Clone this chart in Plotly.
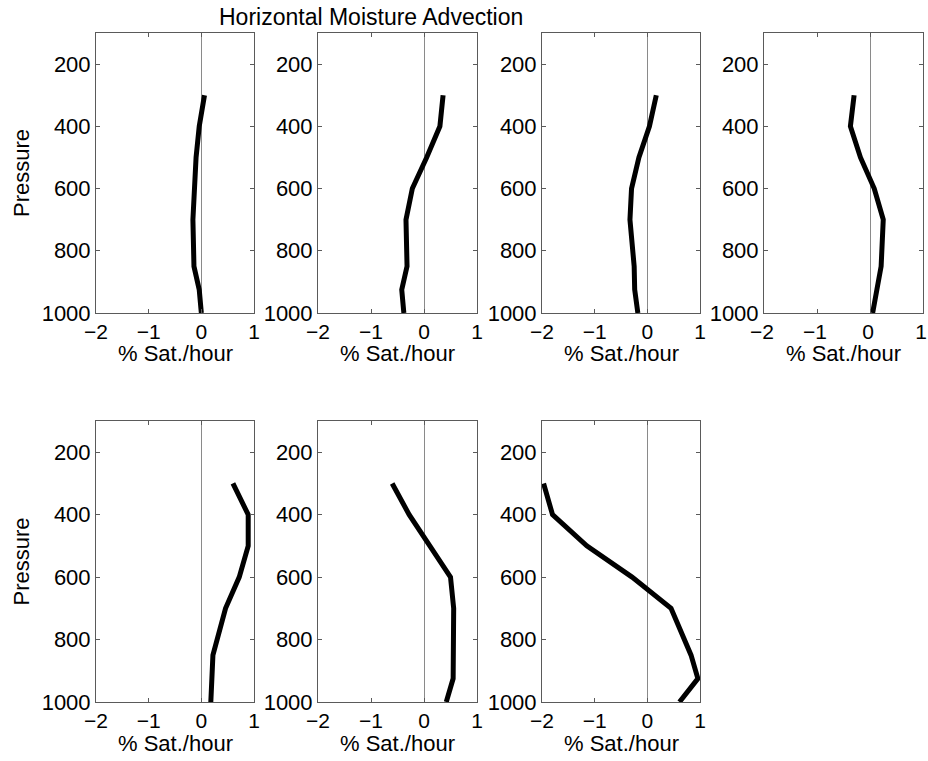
import plotly.graph_objects as go

pressure = [300, 400, 500, 600, 700, 850, 925, 1000]

panel1 = [0.06, -0.04, -0.10, -0.14, -0.16, -0.14, -0.04, 0.00]
panel2 = [0.36, 0.30, 0.05, -0.22, -0.34, -0.32, -0.42, -0.38]
panel3 = [0.17, 0.04, -0.16, -0.30, -0.33, -0.25, -0.24, -0.18]
panel4 = [-0.30, -0.37, -0.18, 0.08, 0.25, 0.21, 0.13, 0.05]
panel5 = [0.60, 0.89, 0.89, 0.72, 0.46, 0.22, 0.20, 0.18]
panel6 = [-0.60, -0.28, 0.11, 0.50, 0.56, 0.54, 0.55, 0.42]
panel7 = [-1.97, -1.80, -1.15, -0.29, 0.45, 0.83, 0.96, 0.61]

panels = [panel1, panel2, panel3, panel4, panel5, panel6, panel7]

x_ticks = [-2, -1, 0, 1]
y_ticks = [200, 400, 600, 800, 1000]

title_text = "Horizontal Moisture Advection"
x_label = "% Sat./hour"
y_label = "Pressure"

W, H = 928, 761
col_px = [(96, 254), (318, 477), (542, 700), (764, 923)]
row_px = [(33, 313), (421, 702)]

FONT = "Liberation Sans, Arial, Helvetica, sans-serif"
FRAME = "#5a5a5a"

fig = go.Figure()
layout = dict(
    template="none",
    width=W, height=H, autosize=False,
    margin=dict(l=0, r=0, t=0, b=0, pad=0, autoexpand=False),
    paper_bgcolor="white", plot_bgcolor="white",
    showlegend=False,
    font=dict(family=FONT, size=22, color="black"),
    annotations=[],
)

for i, vals in enumerate(panels):
    r, c = divmod(i, 4)
    n = i + 1
    xa = "x" if n == 1 else f"x{n}"
    ya = "y" if n == 1 else f"y{n}"
    fig.add_trace(go.Scatter(
        x=vals, y=pressure, mode="lines",
        line=dict(color="black", width=5),
        xaxis=xa, yaxis=ya, hoverinfo="skip",
    ))
    x0, x1 = col_px[c]
    y0, y1 = row_px[r]
    xkey = "xaxis" if n == 1 else f"xaxis{n}"
    ykey = "yaxis" if n == 1 else f"yaxis{n}"
    layout[xkey] = dict(
        domain=[x0 / W, x1 / W], anchor=ya, automargin=False,
        range=[-2, 1], autorange=False,
        tickvals=x_ticks, ticks="inside", ticklen=4, tickcolor=FRAME,
        showline=True, linecolor=FRAME, linewidth=1, mirror="allticks",
        showgrid=False, zeroline=True, zerolinecolor="#8a8a8a", zerolinewidth=1,
        tickfont=dict(size=21, color="black"), ticklabeloverflow="allow",
        ticklabelshift=(-2 if c == 3 else 0),
    )
    layout[ykey] = dict(
        domain=[1 - y1 / H, 1 - y0 / H], anchor=xa, automargin=False,
        range=[1000, 100], autorange=False,
        tickvals=y_ticks, ticks="inside", ticklen=4, tickcolor=FRAME,
        showline=True, linecolor=FRAME, linewidth=1, mirror="allticks",
        showgrid=False, zeroline=False,
        tickfont=dict(size=22, color="black"), ticklabeloverflow="allow",
    )
    layout["annotations"].append(dict(
        text=x_label, xref="paper", yref="paper",
        x=(x0 + x1) / 2 / W, y=1 - (y1 + 41) / H,
        xanchor="center", yanchor="middle", showarrow=False,
        font=dict(size=22, color="black"),
    ))

for r in range(2):
    y0, y1 = row_px[r]
    layout["annotations"].append(dict(
        text=y_label, xref="paper", yref="paper",
        x=21 / W, y=1 - (y0 + y1) / 2 / H,
        xanchor="center", yanchor="middle", showarrow=False, textangle=-90,
        font=dict(size=22, color="black"),
    ))

layout["annotations"].append(dict(
    text=title_text, xref="paper", yref="paper",
    x=371 / W, y=1 - 17 / H,
    xanchor="center", yanchor="middle", showarrow=False,
    font=dict(size=23, color="black"),
))

fig.update_layout(**layout)
fig.write_html("out.html")
